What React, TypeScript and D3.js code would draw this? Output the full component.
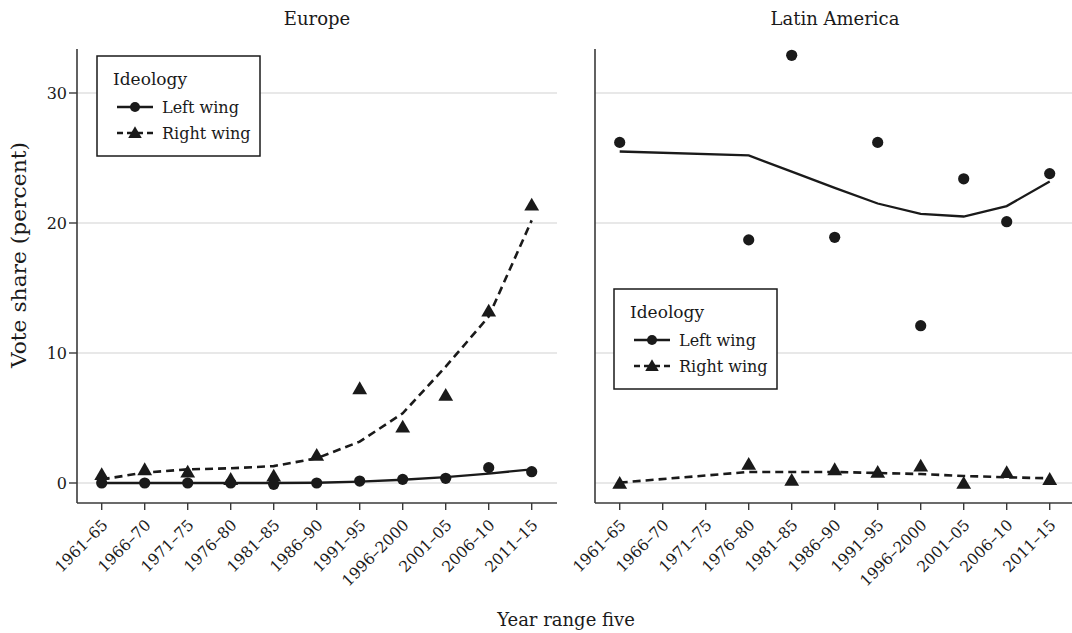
import React, { useEffect, useRef } from "react";
import * as d3 from "d3";

const categories = [
  "1961–65", "1966–70", "1971–75", "1976–80", "1981–85", "1986–90",
  "1991–95", "1996–2000", "2001–05", "2006–10", "2011–15",
];

// Europe
const europeLeft = [0.0, 0.0, 0.0, 0.0, -0.1, 0.0, 0.15, 0.28, 0.36, 1.18, 0.87];
const europeLeftFit = [0.0, 0.0, 0.0, 0.0, 0.0, 0.02, 0.1, 0.25, 0.45, 0.72, 1.05];
const europeRight = [0.67, 1.05, 0.87, 0.3, 0.56, 2.15, 7.28, 4.33, 6.77, 13.25, 21.4];
const europeRightFit = [0.28, 0.8, 1.05, 1.13, 1.3, 1.9, 3.18, 5.36, 8.95, 12.8, 20.2];

// Latin America (no observations for 1966–70 and 1971–75)
const latinLeft = [26.2, null, null, 18.7, 32.9, 18.9, 26.2, 12.1, 23.4, 20.1, 23.8];
const latinLeftFit = [25.5, null, null, 25.2, 23.95, 22.7, 21.5, 20.7, 20.5, 21.3, 23.2];
const latinRight = [0.0, null, null, 1.46, 0.23, 1.05, 0.85, 1.33, 0.0, 0.82, 0.3];
const latinRightFit = [0.03, null, null, 0.85, 0.85, 0.85, 0.77, 0.69, 0.54, 0.44, 0.36];

const yTicks = [0, 10, 20, 30];
const legendTitle = "Ideology";
const legendLabels = ["Left wing", "Right wing"];

type Val = number | null;

const FONT = "'DejaVu Serif', 'Liberation Serif', serif";
const INK = "#1a1a1a";
const AXIS = "#3a3a3a";
const GRID = "#d2d2d2";

const App: React.FC = () => {
  const svgRef = useRef<SVGSVGElement | null>(null);

  useEffect(() => {
    if (!svgRef.current) return;
    const svg = d3.select(svgRef.current);
    svg.selectAll("*").remove();

    const width = 1072;
    const height = 633;
    svg.attr("width", width).attr("height", height);

    const y = d3.scaleLinear().domain([0, 30]).range([483, 93]);
    const yTop = 49;
    const yBottom = 503;
    const panelW = 480;

    const tri = d3.symbol().type(d3.symbolTriangle);

    const panels = [
      { title: "Europe", x0: 77, left: europeLeft, leftFit: europeLeftFit, right: europeRight, rightFit: europeRightFit, legend: [97, 56], yLabels: true },
      { title: "Latin America", x0: 595, left: latinLeft, leftFit: latinLeftFit, right: latinRight, rightFit: latinRightFit, legend: [614, 289], yLabels: false },
    ];

    panels.forEach((p) => {
      const x = d3
        .scalePoint<string>()
        .domain(categories)
        .range([p.x0 + 24.7, p.x0 + 454.7]);

      const g = svg.append("g");

      // gridlines
      g.selectAll("line.grid")
        .data(yTicks)
        .enter()
        .append("line")
        .attr("x1", p.x0)
        .attr("x2", p.x0 + panelW)
        .attr("y1", (d) => y(d))
        .attr("y2", (d) => y(d))
        .attr("stroke", GRID)
        .attr("stroke-width", 1.2);

      // axes
      g.append("line")
        .attr("x1", p.x0).attr("x2", p.x0)
        .attr("y1", yTop).attr("y2", yBottom)
        .attr("stroke", AXIS).attr("stroke-width", 1.6);
      g.append("line")
        .attr("x1", p.x0).attr("x2", p.x0 + panelW)
        .attr("y1", yBottom).attr("y2", yBottom)
        .attr("stroke", AXIS).attr("stroke-width", 1.6);

      // x ticks
      g.selectAll("line.xt")
        .data(categories)
        .enter()
        .append("line")
        .attr("x1", (d) => x(d)!)
        .attr("x2", (d) => x(d)!)
        .attr("y1", yBottom)
        .attr("y2", yBottom + 7)
        .attr("stroke", AXIS)
        .attr("stroke-width", 1.4);

      g.selectAll("text.xt")
        .data(categories)
        .enter()
        .append("text")
        .attr("transform", (d) => `translate(${x(d)! + 7},${526}) rotate(-45)`)
        .attr("text-anchor", "end")
        .attr("font-family", FONT)
        .attr("font-size", 15.5)
        .attr("fill", INK)
        .text((d) => d);

      if (p.yLabels) {
        g.selectAll("line.yt")
          .data(yTicks)
          .enter()
          .append("line")
          .attr("x1", p.x0 - 8)
          .attr("x2", p.x0)
          .attr("y1", (d) => y(d))
          .attr("y2", (d) => y(d))
          .attr("stroke", AXIS)
          .attr("stroke-width", 1.4);
        g.selectAll("text.yt")
          .data(yTicks)
          .enter()
          .append("text")
          .attr("x", p.x0 - 10)
          .attr("y", (d) => y(d))
          .attr("dy", "0.35em")
          .attr("text-anchor", "end")
          .attr("font-family", FONT)
          .attr("font-size", 16)
          .attr("fill", INK)
          .text((d) => d);
      }

      // panel title
      g.append("text")
        .attr("x", p.x0 + panelW / 2)
        .attr("y", 25)
        .attr("text-anchor", "middle")
        .attr("font-family", FONT)
        .attr("font-size", 18)
        .attr("fill", INK)
        .text(p.title);

      const toPts = (arr: Val[]) =>
        arr.map((v, i) => [i, v] as [number, Val]).filter((d) => d[1] !== null);

      const pathGen = d3
        .line<[number, Val]>()
        .x((d) => x(categories[d[0]])!)
        .y((d) => y(d[1] as number));

      g.append("path")
        .attr("d", pathGen(toPts(p.rightFit)) || "")
        .attr("fill", "none")
        .attr("stroke", INK)
        .attr("stroke-width", 2.6)
        .attr("stroke-dasharray", "8,5");

      g.append("path")
        .attr("d", pathGen(toPts(p.leftFit)) || "")
        .attr("fill", "none")
        .attr("stroke", INK)
        .attr("stroke-width", 2.3);

      g.selectAll("path.tri")
        .data(toPts(p.right))
        .enter()
        .append("path")
        .attr("d", tri.size(95)() || "")
        .attr("transform", (d) => `translate(${x(categories[d[0]])},${y(d[1] as number) + 1.5})`)
        .attr("fill", INK);

      g.selectAll("circle.pt")
        .data(toPts(p.left))
        .enter()
        .append("circle")
        .attr("cx", (d) => x(categories[d[0]])!)
        .attr("cy", (d) => y(d[1] as number))
        .attr("r", 5.6)
        .attr("fill", INK);

      // legend
      const [lx, ly] = p.legend;
      const lg = g.append("g").attr("transform", `translate(${lx},${ly})`);
      lg.append("rect")
        .attr("width", 163)
        .attr("height", 100)
        .attr("fill", "#fff")
        .attr("stroke", INK)
        .attr("stroke-width", 1.5);
      lg.append("text")
        .attr("x", 16)
        .attr("y", 29)
        .attr("font-family", FONT)
        .attr("font-size", 17)
        .attr("fill", INK)
        .text(legendTitle);
      legendLabels.forEach((lab, i) => {
        const ry = 51 + i * 26;
        lg.append("line")
          .attr("x1", 20).attr("x2", 56)
          .attr("y1", ry).attr("y2", ry)
          .attr("stroke", INK)
          .attr("stroke-width", i === 0 ? 2.3 : 2.6)
          .attr("stroke-dasharray", i === 0 ? null : "6,4");
        if (i === 0) {
          lg.append("circle").attr("cx", 38).attr("cy", ry).attr("r", 5).attr("fill", INK);
        } else {
          lg.append("path")
            .attr("d", tri.size(80)() || "")
            .attr("transform", `translate(38,${ry + 1})`)
            .attr("fill", INK);
        }
        lg.append("text")
          .attr("x", 65)
          .attr("y", ry)
          .attr("dy", "0.35em")
          .attr("font-family", FONT)
          .attr("font-size", 16)
          .attr("fill", INK)
          .text(lab);
      });
    });

    // axis titles
    svg.append("text")
      .attr("transform", "translate(26,255) rotate(-90)")
      .attr("text-anchor", "middle")
      .attr("font-family", FONT)
      .attr("font-size", 20)
      .attr("textLength", 226)
      .attr("lengthAdjust", "spacingAndGlyphs")
      .attr("fill", INK)
      .text("Vote share (percent)");

    svg.append("text")
      .attr("x", 566)
      .attr("y", 626)
      .attr("text-anchor", "middle")
      .attr("font-family", FONT)
      .attr("font-size", 18)
      .attr("fill", INK)
      .text("Year range five");
  }, []);

  return (
    <svg
      ref={svgRef}
      style={{ position: "absolute", left: 0, top: 0, background: "#fff" }}
    ></svg>
  );
};

export default App;
